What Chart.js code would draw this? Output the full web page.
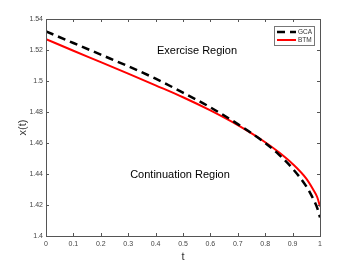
<!DOCTYPE html>
<html>
<head>
<meta charset="utf-8">
<script src="https://cdn.jsdelivr.net/npm/chart.js@4.4.1/dist/chart.umd.min.js"></script>
<style>
  html, body { margin: 0; padding: 0; background: #fff; }
  #wrap { width: 354px; height: 266px; }
</style>
</head>
<body>
<div id="wrap"><canvas id="chart"></canvas></div>
<script>
// time points and the two boundary curves
const tValues = [0, 0.1, 0.2, 0.3, 0.4, 0.5, 0.6, 0.7, 0.8, 0.85, 0.9, 0.95, 0.975, 0.99, 1];
const gcaValues = [1.532, 1.5245, 1.517, 1.5095, 1.5015, 1.4925, 1.483, 1.4722, 1.46, 1.4525, 1.4435, 1.432, 1.424, 1.418, 1.412];
const btmValues = [1.527, 1.5195, 1.5122, 1.5048, 1.4972, 1.4895, 1.481, 1.4715, 1.4605, 1.454, 1.4465, 1.437, 1.43, 1.425, 1.419];
const seriesNames = ['GCA', 'BTM'];
const regionLabels = ['Exercise Region', 'Continuation Region'];

const axisColor = '#555555';
const fontFamily = '"Liberation Sans", Arial, Helvetica, sans-serif';

const toPoints = vals => tValues.map((t, i) => ({ x: t, y: vals[i] }));
const fmt = v => String(Number(Number(v).toFixed(2)));

// MATLAB style box: inward ticks on all four sides, region texts, legend
const matlabBox = {
    id: 'matlabBox',
    afterDraw(chart) {
        const { ctx, chartArea: a, scales } = chart;
        const x = scales.x, y = scales.y;
        ctx.save();
        ctx.strokeStyle = axisColor;
        ctx.lineWidth = 1;
        ctx.strokeRect(Math.round(a.left) + 0.5, Math.round(a.top) + 0.5,
            Math.round(a.right - a.left), Math.round(a.bottom - a.top));
        const tl = 3;
        ctx.beginPath();
        x.ticks.forEach(tk => {
            const px = Math.round(x.getPixelForValue(tk.value)) + 0.5;
            ctx.moveTo(px, a.bottom); ctx.lineTo(px, a.bottom - tl);
            ctx.moveTo(px, a.top); ctx.lineTo(px, a.top + tl);
        });
        y.ticks.forEach(tk => {
            const py = Math.round(y.getPixelForValue(tk.value)) + 0.5;
            ctx.moveTo(a.left, py); ctx.lineTo(a.left + tl, py);
            ctx.moveTo(a.right, py); ctx.lineTo(a.right - tl, py);
        });
        ctx.stroke();

        // region annotations
        ctx.fillStyle = '#000';
        ctx.font = '11px ' + fontFamily;
        ctx.textAlign = 'center';
        ctx.textBaseline = 'middle';
        ctx.fillText(regionLabels[0], x.getPixelForValue(0.551), y.getPixelForValue(1.5196));
        ctx.fillText(regionLabels[1], x.getPixelForValue(0.489), y.getPixelForValue(1.4394));

        // legend
        const lx = 274, ly = 26, lw = 40, lh = 19;
        ctx.fillStyle = '#fff';
        ctx.fillRect(lx, ly, lw, lh);
        ctx.strokeStyle = '#777';
        ctx.strokeRect(lx + 0.5, ly + 0.5, lw, lh);
        ctx.font = '6.5px ' + fontFamily;
        ctx.textAlign = 'left';
        chart.data.datasets.forEach((ds, i) => {
            const yy = ly + 6 + i * 8;
            ctx.strokeStyle = ds.borderColor;
            ctx.lineWidth = ds.borderWidth;
            ctx.setLineDash(ds.borderDash || []);
            ctx.beginPath();
            ctx.moveTo(lx + 3, yy); ctx.lineTo(lx + 22, yy);
            ctx.stroke();
            ctx.setLineDash([]);
            ctx.fillStyle = '#333';
            ctx.fillText(ds.label, lx + 24, yy);
        });
        ctx.restore();
    }
};

new Chart(document.getElementById('chart'), {
    type: 'line',
    data: {
        datasets: [{
            label: seriesNames[0],
            data: toPoints(gcaValues),
            borderColor: '#000000',
            borderWidth: 2.5,
            borderDash: [8, 5],
            pointRadius: 0,
            fill: false,
            cubicInterpolationMode: 'monotone'
        }, {
            label: seriesNames[1],
            data: toPoints(btmValues),
            borderColor: '#ff0000',
            borderWidth: 2,
            pointRadius: 0,
            fill: false,
            cubicInterpolationMode: 'monotone'
        }]
    },
    options: {
        responsive: true,
        maintainAspectRatio: false,
        animation: false,
        layout: { padding: { top: 19, right: 34, left: 0, bottom: 0 } },
        scales: {
            x: {
                type: 'linear',
                min: 0, max: 1,
                afterFit: s => { s.height = 30; },
                grid: { display: false, drawTicks: false },
                border: { display: false },
                ticks: {
                    stepSize: 0.1,
                    padding: 4,
                    color: '#444',
                    font: { family: fontFamily, size: 7 },
                    maxRotation: 0,
                    autoSkip: false,
                    callback: fmt
                },
                title: {
                    display: true,
                    text: 't',
                    color: '#333',
                    font: { family: fontFamily, size: 11 },
                    padding: { top: 0, bottom: 2 }
                }
            },
            y: {
                min: 1.4, max: 1.54,
                afterFit: s => { s.width = 46; },
                grid: { display: false, drawTicks: false },
                border: { display: false },
                ticks: {
                    stepSize: 0.02,
                    padding: 3,
                    color: '#444',
                    font: { family: fontFamily, size: 7 },
                    autoSkip: false,
                    callback: fmt
                },
                title: {
                    display: true,
                    text: 'x(t)',
                    color: '#333',
                    font: { family: fontFamily, size: 11 },
                    padding: { top: 16, bottom: 0 }
                }
            }
        },
        plugins: {
            legend: { display: false },
            tooltip: { enabled: false }
        }
    },
    plugins: [matlabBox]
});
</script>
</body>
</html>
